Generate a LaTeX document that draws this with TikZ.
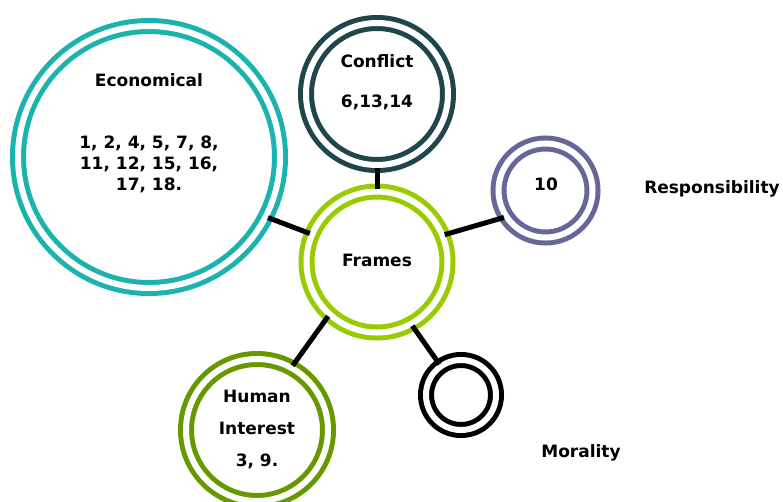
\documentclass[tikz,border=0pt]{standalone}
\usepackage{fontspec}
\setmainfont{DejaVu Sans}
\definecolor{econcol}{RGB}{26,179,173}
\definecolor{conflictcol}{RGB}{30,70,75}
\definecolor{framescol}{RGB}{153,204,0}
\definecolor{respcol}{RGB}{102,102,153}
\definecolor{humancol}{RGB}{102,153,0}
\begin{document}
\begin{tikzpicture}[x=1pt,y=-1pt]
\tikzstyle{every node}+=[inner sep=0pt, font=\bfseries\fontsize{17}{21}\selectfont]
\tikzstyle{ring}=[circle, line width=5pt, double=white, double distance=6pt]
\tikzstyle{link}=[black, line width=5pt]
\useasboundingbox (0,0) rectangle (783,501);
% frames
\node [ring, draw=econcol, minimum size=262] (econ) at (149,157) {};
\node [ring, draw=conflictcol, minimum size=142] (conflict) at (377,94) {};
\node [ring, draw=framescol, minimum size=141] (frames) at (377,262) {};
\node [ring, draw=respcol, minimum size=94] (resp) at (545.5,190.5) {};
\node [ring, draw=black, minimum size=70] (moral) at (461,395) {};
\node [ring, draw=humancol, minimum size=142] (human) at (257,430) {};
% texts
\node (econ-title) at (149,80) {Economical};
\node [align=center] (econ-items) at (149,164) {1, 2, 4, 5, 7, 8,\\11, 12, 15, 16,\\17, 18.};
\node (conflict-title) at (377,61) {Conflict};
\node (conflict-items) at (377,102) {6,13,14};
\node (frames-title) at (377,260) {Frames};
\node (resp-items) at (546,184) {10};
\node (resp-title) at (712,189) {Responsibility};
\node (moral-title) at (581,453) {Morality};
\node [align=center, font=\bfseries\fontsize{17}{32}\selectfont] (human-title) at (257,429.5) {Human\\Interest\\3, 9.};
% links
\draw [link] (econ.-27) -- (frames.157);
\draw [link] (conflict.south) -- (frames.north);
\draw [link] (frames.22) -- (resp.-147);
\draw [link] (frames.-132) -- (human.61);
\draw [link] (frames.-61) -- (moral.125);
\end{tikzpicture}
\end{document}
